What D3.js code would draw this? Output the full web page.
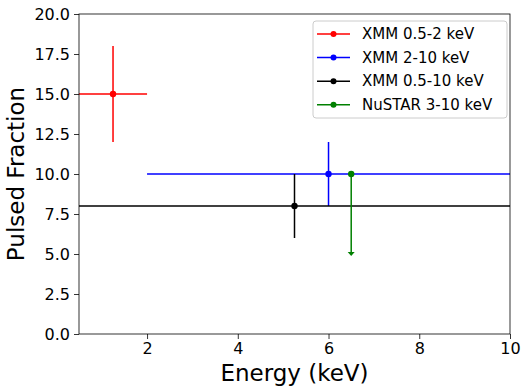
<!DOCTYPE html>
<html>
<head>
<meta charset="utf-8">
<script src="https://cdn.jsdelivr.net/npm/d3@7"></script>
<style>
  body { margin: 0; background: #fff; }
  text { font-family: "DejaVu Sans", sans-serif; fill: #000; }
</style>
</head>
<body>
<div class="vis"></div>
<script>
'use strict';

// series, in legend order
var labels = ['XMM 0.5-2 keV', 'XMM 2-10 keV', 'XMM 0.5-10 keV', 'NuSTAR 3-10 keV'];
var colors = ['#ff0000', '#0000ff', '#000000', '#008000'];
var energy = [1.25, 6, 5.25, 6.5];
var energyErr = [0.75, 4, 4.75, 0];
var fraction = [15, 10, 8, 10];
var fractionErr = [3, 2, 2, 5];
var upperLimit = [false, false, false, true];

var xTicks = [2, 4, 6, 8, 10];
var yTicks = [0, 2.5, 5, 7.5, 10, 12.5, 15, 17.5, 20];

var width = 527, height = 391;
var margin = { left: 79, right: 17, top: 14, bottom: 57 };

var x = d3.scaleLinear().domain([0.5, 10]).range([margin.left, width - margin.right]);
var y = d3.scaleLinear().domain([0, 20]).range([height - margin.bottom, margin.top]);

var svg = d3.select('.vis').append('svg')
  .attr('width', width)
  .attr('height', height);

var data = labels.map(function (l, i) {
  return { label: l, color: colors[i], x: energy[i], xe: energyErr[i], y: fraction[i], ye: fractionErr[i], ul: upperLimit[i] };
});

var plot = svg.append('g');

data.forEach(function (d) {
  var g = plot.append('g');
  if (d.xe > 0) {
    g.append('line')
      .attr('x1', x(d.x - d.xe)).attr('x2', x(d.x + d.xe))
      .attr('y1', y(d.y)).attr('y2', y(d.y))
      .attr('stroke', d.color).attr('stroke-width', 1.5);
  }
  if (d.ul) {
    // upper limit: line down to the limit with a small arrow head
    var tipY = y(d.y - d.ye) + 2;
    var px = x(d.x);
    g.append('line')
      .attr('x1', px).attr('x2', px)
      .attr('y1', y(d.y)).attr('y2', tipY - 3)
      .attr('stroke', d.color).attr('stroke-width', 1.5);
    g.append('path')
      .attr('d', 'M' + (px - 3.5) + ',' + (tipY - 4) + 'L' + (px + 3.5) + ',' + (tipY - 4) + 'L' + px + ',' + tipY + 'Z')
      .attr('fill', d.color);
  } else {
    g.append('line')
      .attr('x1', x(d.x)).attr('x2', x(d.x))
      .attr('y1', y(d.y - d.ye)).attr('y2', y(d.y + d.ye))
      .attr('stroke', d.color).attr('stroke-width', 1.5);
  }
  g.append('circle')
    .attr('cx', x(d.x)).attr('cy', y(d.y))
    .attr('r', 3.2)
    .attr('fill', d.color);
});

// axes
var xAxis = svg.append('g')
  .attr('transform', 'translate(0,' + (height - margin.bottom) + ')')
  .call(d3.axisBottom(x).tickValues(xTicks).tickSize(5).tickPadding(4).tickFormat(d3.format('d')));
var yAxis = svg.append('g')
  .attr('transform', 'translate(' + margin.left + ',0)')
  .call(d3.axisLeft(y).tickValues(yTicks).tickSize(5).tickPadding(4).tickFormat(d3.format('.1f')));

[xAxis, yAxis].forEach(function (a) {
  a.selectAll('text').style('font-size', '16px').attr('fill', '#000');
  a.selectAll('line').attr('stroke', '#000').attr('stroke-width', 0.8);
  a.select('.domain').remove();
});

// frame
svg.append('rect')
  .attr('x', margin.left).attr('y', margin.top)
  .attr('width', width - margin.left - margin.right)
  .attr('height', height - margin.top - margin.bottom)
  .attr('fill', 'none').attr('stroke', '#000').attr('stroke-width', 0.8);

// axis titles
svg.append('text')
  .attr('x', (margin.left + width - margin.right) / 2)
  .attr('y', 381)
  .attr('text-anchor', 'middle')
  .style('font-size', '23px')
  .text('Energy (keV)');

svg.append('text')
  .attr('transform', 'translate(24,' + ((margin.top + height - margin.bottom) / 2) + ') rotate(-90)')
  .attr('text-anchor', 'middle')
  .style('font-size', '23px')
  .text('Pulsed Fraction');

// legend
var legend = svg.append('g').attr('transform', 'translate(313,21)');
legend.append('rect')
  .attr('width', 194).attr('height', 97)
  .attr('rx', 3)
  .attr('fill', '#fff').attr('fill-opacity', 0.8)
  .attr('stroke', '#ccc');

data.forEach(function (d, i) {
  var row = legend.append('g').attr('transform', 'translate(0,' + (13 + i * 23.6) + ')');
  row.append('line')
    .attr('x1', 4).attr('x2', 37)
    .attr('stroke', d.color).attr('stroke-width', 1.5);
  row.append('circle').attr('cx', 20.5).attr('r', 3).attr('fill', d.color);
  row.append('text')
    .attr('x', 49).attr('dy', '0.35em')
    .style('font-size', '15px')
    .text(d.label);
});
</script>
</body>
</html>
